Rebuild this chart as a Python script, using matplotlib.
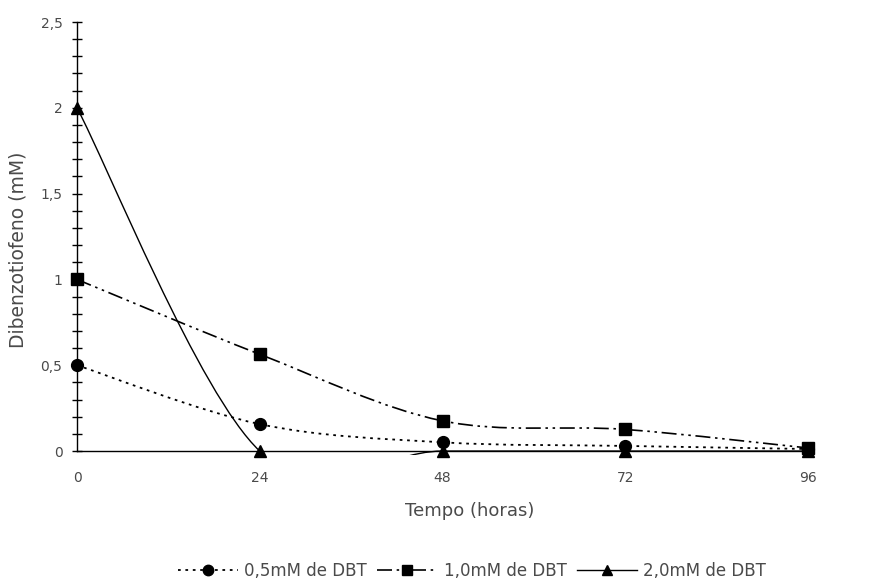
import matplotlib

matplotlib.use('agg')

from matplotlib import pyplot as plt
from matplotlib.path import Path
from matplotlib.patches import PathPatch
from matplotlib.lines import Line2D
from matplotlib.ticker import MultipleLocator, FuncFormatter

horas = [0, 24, 48, 72, 96]
dbt_05 = [0.5, 0.157, 0.051, 0.030, 0.012]
dbt_10 = [1.0, 0.564, 0.176, 0.126, 0.018]
dbt_20 = [2.0, 0.0, 0.0, 0.0, 0.0]
labels = ["0,5mM de DBT", "1,0mM de DBT", "2,0mM de DBT"]

plt.rcParams['font.family'] = ['DejaVu Sans']
text_color = '#4a4a4a'


def smooth_path(xs, ys):
    # excel-like smoothed line: cubic bezier through the points
    pts = list(zip(xs, ys))
    n = len(pts)
    verts = [pts[0]]
    codes = [Path.MOVETO]
    for i in range(n - 1):
        p0 = pts[i - 1] if i > 0 else pts[i]
        p1 = pts[i]
        p2 = pts[i + 1]
        p3 = pts[i + 2] if i + 2 < n else pts[i + 1]
        c1 = (p1[0] + (p2[0] - p0[0]) / 6, p1[1] + (p2[1] - p0[1]) / 6)
        c2 = (p2[0] - (p3[0] - p1[0]) / 6, p2[1] - (p3[1] - p1[1]) / 6)
        verts += [c1, c2, p2]
        codes += [Path.CURVE4] * 3
    return Path(verts, codes)


fig = plt.figure(figsize=(8.73, 5.79), dpi=100)
ax = fig.add_axes([77 / 873, 1 - 454.5 / 579, 731 / 873, 432.5 / 579])

styles = [
    dict(ls=(0, (1.5, 2.6)), lw=1.3, marker='o', ms=8.5),
    dict(ls=(0, (9, 2.8, 1.5, 2.8, 1.5, 2.8)), lw=1.2, marker='s', ms=8.5),
    dict(ls='-', lw=1.0, marker='^', ms=8.5),
]

handles = []
for ys, st, lab in zip([dbt_05, dbt_10, dbt_20], styles, labels):
    patch = PathPatch(smooth_path(horas, ys), fill=False, edgecolor='black',
                      linestyle=st['ls'], linewidth=st['lw'], capstyle='butt')
    ax.add_patch(patch)
    ax.plot(horas, ys, linestyle='none', marker=st['marker'], markersize=st['ms'],
            color='black', clip_on=False, zorder=3)
    handles.append(Line2D([], [], color='black', linestyle=st['ls'], linewidth=st['lw'],
                          marker=st['marker'], markersize=st['ms'] - 1))

ax.set_xlim(0, 96)
ax.set_ylim(-0.02, 2.5)
ax.spines['bottom'].set_position(('data', 0))
ax.spines['top'].set_visible(False)
ax.spines['right'].set_visible(False)
ax.spines['left'].set_bounds(0, 2.5)
for s in ['left', 'bottom']:
    ax.spines[s].set_color('black')
    ax.spines[s].set_linewidth(1.0)

ax.set_xticks(horas)
ax.yaxis.set_major_locator(MultipleLocator(0.5))
ax.yaxis.set_minor_locator(MultipleLocator(0.1))
ax.yaxis.set_major_formatter(FuncFormatter(lambda v, p: ('%g' % v).replace('.', ',')))
ax.tick_params(axis='y', which='both', direction='inout', length=7, width=1,
               color='black', labelcolor=text_color, labelsize=10, pad=7)
ax.tick_params(axis='x', direction='out', length=0, width=1,
               color='black', labelcolor=text_color, labelsize=10, pad=14)

ax.set_xlabel("Tempo (horas)", fontsize=13, color=text_color)
ax.xaxis.set_label_coords((470 - 77) / 731, -(502 - 454.5) / 432.5)
ax.set_ylabel("Dibenzotiofeno (mM)", fontsize=13.5, color=text_color)
ax.yaxis.set_label_coords(-(77 - 28) / 731, (454.5 - 250) / 432.5)

fig.legend(handles=handles, labels=labels, loc='center', bbox_to_anchor=(472 / 873, 1 - 571 / 579),
           ncol=3, frameon=False, fontsize=12, labelcolor=text_color, handlelength=3.6,
           handletextpad=0.4, columnspacing=0.6, numpoints=1, borderpad=0.2)

plt.savefig("out.png", dpi=100)
